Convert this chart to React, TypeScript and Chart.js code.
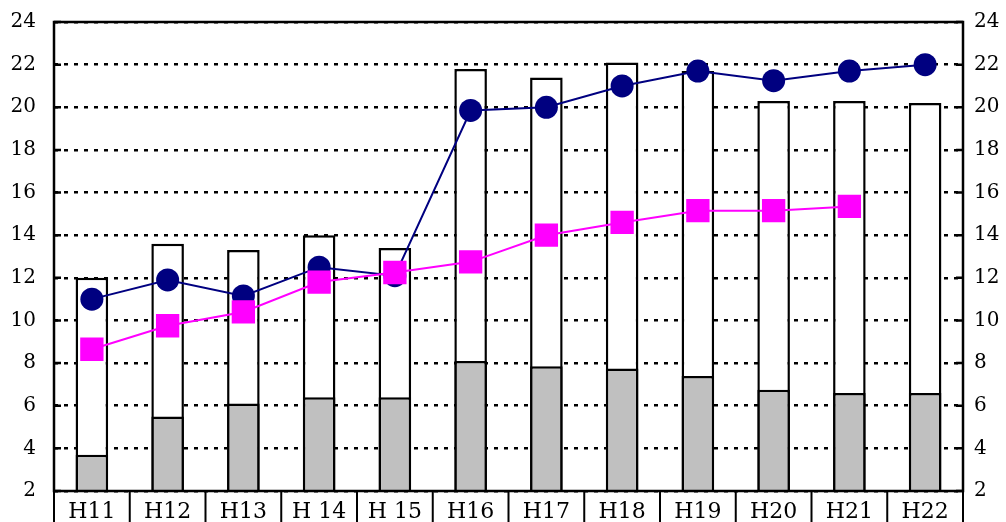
import React, { useEffect, useRef } from "react";
import { Chart, registerables } from "chart.js";

Chart.register(...registerables);

const categories = ["H11", "H12", "H13", "H 14", "H 15", "H16", "H17", "H18", "H19", "H20", "H21", "H22"];
const totalValues = [12.0, 13.6, 13.3, 14.0, 13.4, 21.8, 21.4, 22.1, 21.7, 20.3, 20.3, 20.2];
const grayValues = [3.7, 5.5, 6.1, 6.4, 6.4, 8.1, 7.85, 7.75, 7.4, 6.75, 6.6, 6.6];
const blueValues = [11.0, 11.9, 11.15, 12.5, 12.1, 19.85, 20.0, 21.0, 21.7, 21.25, 21.7, 22.0];
const magentaValues: (number | null)[] = [8.65, 9.75, 10.4, 11.8, 12.25, 12.75, 14.0, 14.6, 15.15, 15.15, 15.35, null];
const yMin = 2;
const yMax = 24;
const yStep = 2;

const framePlugin = {
  id: "frame",
  afterDraw(chart: any) {
    const { ctx, chartArea } = chart;
    const { left, right, top, bottom } = chartArea;
    const yScale = chart.scales.y;
    ctx.save();
    ctx.strokeStyle = "#000";
    ctx.setLineDash([]);
    ctx.lineWidth = 2.5;
    yScale.ticks.forEach((_t: any, i: number) => {
      const y = yScale.getPixelForTick(i);
      ctx.beginPath();
      ctx.moveTo(left, y);
      ctx.lineTo(left + 7, y);
      ctx.moveTo(right - 7, y);
      ctx.lineTo(right, y);
      ctx.stroke();
    });
    ctx.lineWidth = 2.5;
    ctx.strokeRect(left, top, right - left, bottom - top);
    const n = categories.length;
    const w = (right - left) / n;
    ctx.lineWidth = 2;
    for (let i = 0; i <= n; i++) {
      const x = left + i * w;
      ctx.beginPath();
      ctx.moveTo(x, bottom);
      ctx.lineTo(x, chart.height);
      ctx.stroke();
    }
    ctx.restore();
  },
};

export default function App() {
  const ref = useRef<HTMLCanvasElement | null>(null);
  useEffect(() => {
    if (!ref.current) return;
    Chart.defaults.font.family = "'DejaVu Serif', serif";
    Chart.defaults.color = "#000";
    const chart = new Chart(ref.current, {
      type: "bar",
      data: {
        labels: categories,
        datasets: [
          {
            type: "line",
            label: "magenta",
            data: magentaValues,
            yAxisID: "y2",
            borderColor: "#ff00ff",
            backgroundColor: "#ff00ff",
            borderWidth: 2,
            pointStyle: "rect",
            pointRadius: 16.5,
            pointBorderWidth: 0,
            order: 0,
          },
          {
            type: "line",
            label: "blue",
            data: blueValues,
            yAxisID: "y2",
            borderColor: "#000080",
            backgroundColor: "#000080",
            borderWidth: 2,
            pointStyle: "circle",
            pointRadius: 11.5,
            pointBorderWidth: 0,
            order: 1,
          },
          {
            type: "bar",
            label: "gray",
            data: grayValues,
            yAxisID: "y",
            backgroundColor: "#c0c0c0",
            borderColor: "#000",
            borderWidth: 2.5,
            grouped: false,
            barPercentage: 0.43,
            categoryPercentage: 1,
            clip: 0,
            order: 2,
          } as any,
          {
            type: "bar",
            label: "total",
            data: totalValues,
            yAxisID: "y",
            backgroundColor: "#ffffff",
            borderColor: "#000",
            borderWidth: 2.5,
            grouped: false,
            barPercentage: 0.43,
            categoryPercentage: 1,
            clip: 0,
            order: 3,
          } as any,
        ],
      },
      options: {
        animation: false,
        responsive: false,
        devicePixelRatio: 1,
        layout: { padding: { top: 22, left: 0, right: 0, bottom: 0 } },
        plugins: { legend: { display: false }, tooltip: { enabled: false } },
        scales: {
          x: {
            type: "category",
            offset: true,
            grid: { display: false, drawTicks: false },
            border: { display: false },
            ticks: { font: { size: 22 }, color: "#000", padding: 8, maxRotation: 0, autoSkip: false },
            afterFit: (s: any) => {
              s.height = 31;
              s.paddingLeft = 0;
              s.paddingRight = 0;
            },
          },
          y: {
            position: "left",
            min: yMin,
            max: yMax,
            grid: { color: "#000", lineWidth: 2.5, drawTicks: false },
            border: { display: false, dash: [4, 6] },
            ticks: { stepSize: yStep, font: { size: 20 }, color: "#000", padding: 18 },
            afterFit: (s: any) => {
              s.width = 54;
              s.paddingTop = 0;
              s.paddingBottom = 0;
            },
          },
          y2: {
            position: "right",
            min: yMin,
            max: yMax,
            grid: { display: false, drawTicks: false },
            border: { display: false },
            ticks: { stepSize: yStep, font: { size: 20 }, color: "#000", padding: 11 },
            afterFit: (s: any) => {
              s.width = 43;
              s.paddingTop = 0;
              s.paddingBottom = 0;
            },
          },
        },
      },
      plugins: [framePlugin],
    });
    return () => chart.destroy();
  }, []);
  return (
    <div style={{ position: "absolute", left: 0, top: 0, width: 1006, height: 522, background: "#fff" }}>
      <canvas ref={ref} width={1006} height={522} style={{ display: "block" }} />
    </div>
  );
}
